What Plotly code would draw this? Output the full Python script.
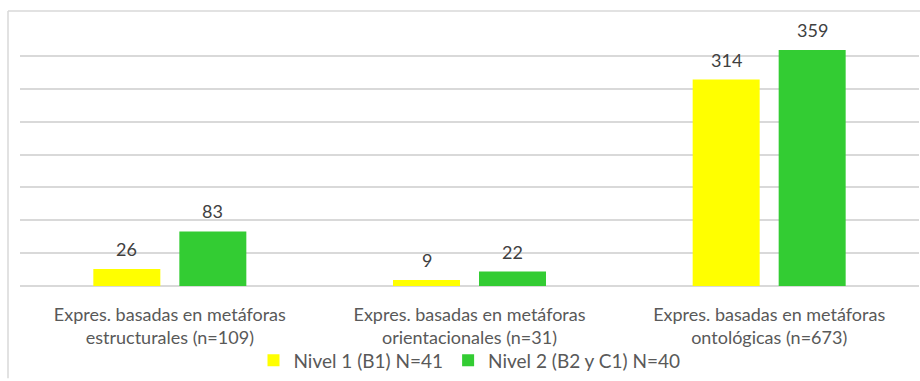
import plotly.graph_objects as go

categories = [
    "Expres. basadas en metáforas<br>estructurales (n=109)",
    "Expres. basadas en metáforas<br>orientacionales (n=31)",
    "Expres. basadas en metáforas<br>ontológicas (n=673)",
]
series_names = ["Nivel 1 (B1) N=41", "Nivel 2 (B2 y C1) N=40"]
nivel1 = [26, 9, 314]
nivel2 = [83, 22, 359]
colors = ["#FFFF00", "#33CC33"]

W, H = 920, 381
ml, mr, mt, mb = 20, 1, 23, 93
FONT = "Lato"

fig = go.Figure()
for name, vals, col in zip(series_names, [nivel1, nivel2], colors):
    fig.add_trace(go.Bar(x=categories, y=vals, name=name, marker_color=col,
                         marker_line_width=0))

annotations = []
for k, vals in enumerate([nivel1, nivel2]):
    shift = -43 if k == 0 else 43
    for c, v in zip(categories, vals):
        annotations.append(dict(x=c, y=v, text=str(v), showarrow=False,
                                xshift=shift, yshift=20, yanchor="middle",
                                font=dict(family=FONT, size=18, color="#404040")))

ph = H - mt - mb
pw = W - ml - mr
def py(pix):
    return (H - mb - pix) / ph
def px(pix):
    return (pix - ml) / pw

shapes = [
    dict(type="line", xref="paper", yref="paper", x0=px(8), x1=px(920), y0=py(11), y1=py(11),
         line=dict(color="#D9D9D9", width=1.5)),
    dict(type="line", xref="paper", yref="paper", x0=px(8), x1=px(8), y0=py(11), y1=py(381),
         line=dict(color="#D9D9D9", width=1.5)),
]

fig.update_layout(
    width=W, height=H,
    margin=dict(l=ml, r=mr, t=mt, b=mb),
    paper_bgcolor="white", plot_bgcolor="white",
    barmode="group", bargap=0.426, bargroupgap=0.221,
    font=dict(family=FONT, color="#595959", size=18),
    xaxis=dict(showgrid=False, showline=False, ticks="", tickfont=dict(size=18, color="#595959"),
               ticklabelstandoff=16),
    yaxis=dict(range=[0, 400], dtick=50, showticklabels=False, showgrid=True,
               gridcolor="#D9D9D9", gridwidth=1.5, zeroline=True, zerolinecolor="#D9D9D9",
               zerolinewidth=1.5, showline=False, ticks=""),
    legend=dict(orientation="h", x=0.5, xanchor="center", y=py(363), yanchor="middle",
                font=dict(size=19, color="#595959"), itemwidth=30, traceorder="normal",
                bgcolor="rgba(0,0,0,0)"),
    annotations=annotations,
    shapes=shapes,
    showlegend=True,
)

fig.write_html("out.html")
